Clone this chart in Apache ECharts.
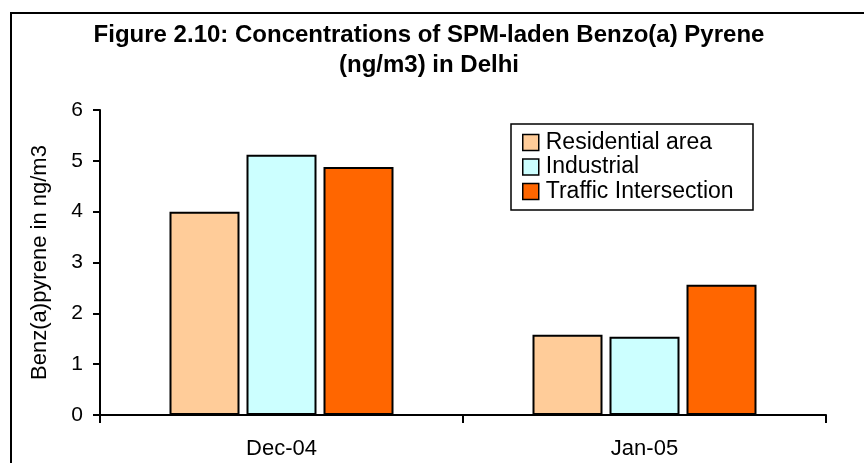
<!DOCTYPE html>
<html>
<head>
<meta charset="utf-8">
<script src="https://cdn.jsdelivr.net/npm/echarts@6/dist/echarts.min.js"></script>
<style>
  html, body { margin: 0; padding: 0; background: #fff; }
  #main { width: 864px; height: 463px; }
</style>
</head>
<body>
<div id="main"></div>
<script>
// data
var months = ['Dec-04', 'Jan-05'];
var residential = [4.0, 1.58];
var industrial = [5.12, 1.54];
var traffic = [4.88, 2.56];
var yTicks = [0, 1, 2, 3, 4, 5, 6];

var font = 'Liberation Sans, Arial, sans-serif';

function barSeries(name, data, color) {
    return {
        name: name,
        type: 'bar',
        data: data,
        barWidth: 70,
        barGap: '10%',
        itemStyle: { color: color, borderColor: '#000', borderWidth: 2 }
    };
}

var chart = echarts.init(document.getElementById('main'));
chart.setOption({
    animation: false,
    title: {
        text: 'Figure 2.10: Concentrations of SPM-laden Benzo(a) Pyrene\n(ng/m3) in Delhi',
        left: 424,
        top: 15,
        textAlign: 'center',
        textStyle: { fontFamily: font, fontSize: 24, fontWeight: 'bold', color: '#000', lineHeight: 30 }
    },
    legend: {
        orient: 'vertical',
        left: 511,
        top: 124,
        itemWidth: 16,
        itemHeight: 16,
        itemGap: 1.5,
        itemStyle: { borderColor: '#000', borderWidth: 1.5 },
        padding: [7, 11, 7, 11],
        icon: 'rect',
        textStyle: { fontFamily: font, fontSize: 23, color: '#000', lineHeight: 22.5, padding: [0, 0, 0, 2] },
        data: ['Residential area', 'Industrial', 'Traffic Intersection']
    },
    grid: { left: 100, right: 38, top: 110, bottom: 48 },
    xAxis: {
        type: 'category',
        data: months,
        axisLine: { lineStyle: { color: '#000', width: 2 } },
        axisTick: { show: true, length: 8, lineStyle: { color: '#000', width: 2 } },
        axisLabel: { fontFamily: font, fontSize: 22, color: '#000', margin: 23 }
    },
    yAxis: {
        type: 'value',
        min: yTicks[0],
        max: yTicks[yTicks.length - 1],
        interval: 1,
        name: 'Benz(a)pyrene in ng/m3',
        nameLocation: 'middle',
        nameGap: 49,
        nameTextStyle: { fontFamily: font, fontSize: 22, color: '#000' },
        splitLine: { show: false },
        axisLine: { show: true, lineStyle: { color: '#000', width: 2 } },
        axisTick: { show: true, length: 7, lineStyle: { color: '#000', width: 2 } },
        axisLabel: { fontFamily: font, fontSize: 21, color: '#000', margin: 17 }
    },
    series: [
        barSeries('Residential area', residential, '#FFCC99'),
        barSeries('Industrial', industrial, '#CCFFFF'),
        barSeries('Traffic Intersection', traffic, '#FF6600')
    ],
    graphic: [
        { type: 'line', shape: { x1: 11, y1: 13, x2: 11, y2: 463 }, style: { stroke: '#000', lineWidth: 2 } },
        { type: 'line', shape: { x1: 10, y1: 13, x2: 864, y2: 13 }, style: { stroke: '#000', lineWidth: 2 } },
        // legend frame
        { type: 'rect', shape: { x: 511, y: 124, width: 242, height: 86 }, style: { fill: 'none', stroke: '#000', lineWidth: 1.5 }, z: 10 }
    ]
});
</script>
</body>
</html>
